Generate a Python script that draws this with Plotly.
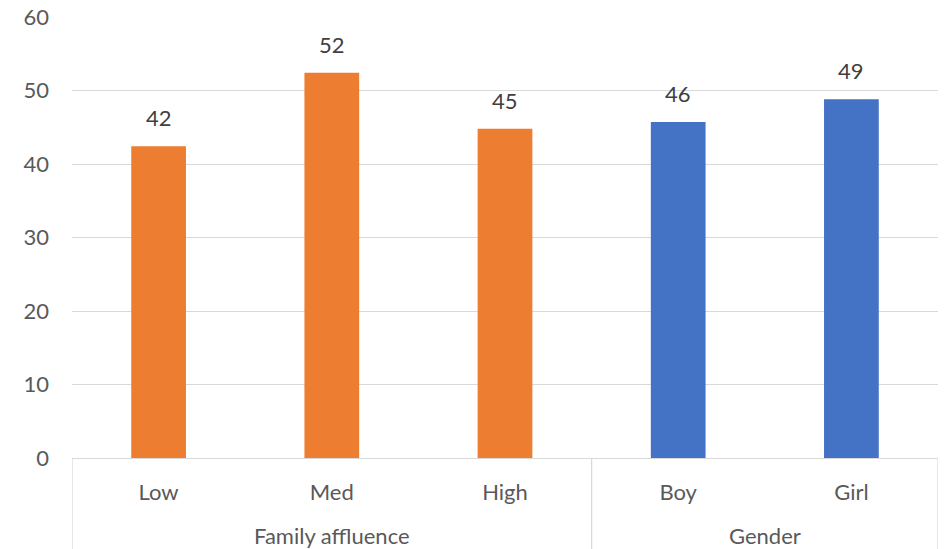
import plotly.graph_objects as go

# Share (%) by subgroup
categories = ["Low", "Med", "High", "Boy", "Girl"]
groups = ["Family affluence", "Family affluence", "Family affluence", "Gender", "Gender"]
values = [42.4, 52.4, 44.8, 45.7, 48.8]
colors = ["#ED7D31", "#ED7D31", "#ED7D31", "#4472C4", "#4472C4"]
y_ticks = [0, 10, 20, 30, 40, 50, 60]

FONT = "Lato, 'Open Sans', sans-serif"
FONT_SIZE = 22
AXIS_GREY = "#D9D9D9"
TEXT_GREY = "#595959"

fig = go.Figure(
    go.Bar(
        x=categories,
        y=values,
        marker=dict(color=colors, line=dict(width=0)),
        hoverinfo="skip",
    )
)

# value labels above each bar
for cat, val in zip(categories, values):
    fig.add_annotation(
        x=cat, y=val, xref="x", yref="y",
        text=f"{val:.0f}", showarrow=False,
        yanchor="bottom", yshift=13,
        font=dict(family=FONT, size=FONT_SIZE, color="#404040"),
    )

# outer category level: group labels and divider lines
group_names = []
for g in groups:
    if g not in group_names:
        group_names.append(g)
start = 0
edges = [-0.5]
for g in group_names:
    n = groups.count(g)
    centre = start + (n - 1) / 2
    fig.add_annotation(
        x=centre, y=-0.175, xref="x", yref="paper",
        text=g, showarrow=False, yanchor="middle",
        font=dict(family=FONT, size=FONT_SIZE, color=TEXT_GREY),
    )
    start += n
    edges.append(start - 0.5)

for e in edges:
    fig.add_shape(
        type="line", xref="x", yref="paper",
        x0=e, x1=e, y0=0, y1=-0.25,
        line=dict(color=AXIS_GREY, width=1.3),
        layer="below",
    )

fig.update_layout(
    width=946, height=549,
    margin=dict(l=72, r=8, t=17, b=91),
    paper_bgcolor="white", plot_bgcolor="white",
    bargap=0.684,
    showlegend=False,
    font=dict(family=FONT, size=FONT_SIZE, color=TEXT_GREY),
)
fig.update_xaxes(
    type="category", range=[-0.5, len(categories) - 0.5],
    automargin=False,
    showgrid=False, showline=True, linecolor=AXIS_GREY, linewidth=1.3,
    ticks="", ticklabelstandoff=14,
    tickfont=dict(family=FONT, size=FONT_SIZE, color=TEXT_GREY),
)
fig.update_yaxes(
    range=[0, 60], tickvals=y_ticks,
    automargin=False,
    showgrid=True, gridcolor=AXIS_GREY, gridwidth=1.3,
    zeroline=False, showline=False,
    ticks="", ticklabelstandoff=22,
    tickfont=dict(family=FONT, size=FONT_SIZE, color=TEXT_GREY),
)

fig.write_html("out.html")
